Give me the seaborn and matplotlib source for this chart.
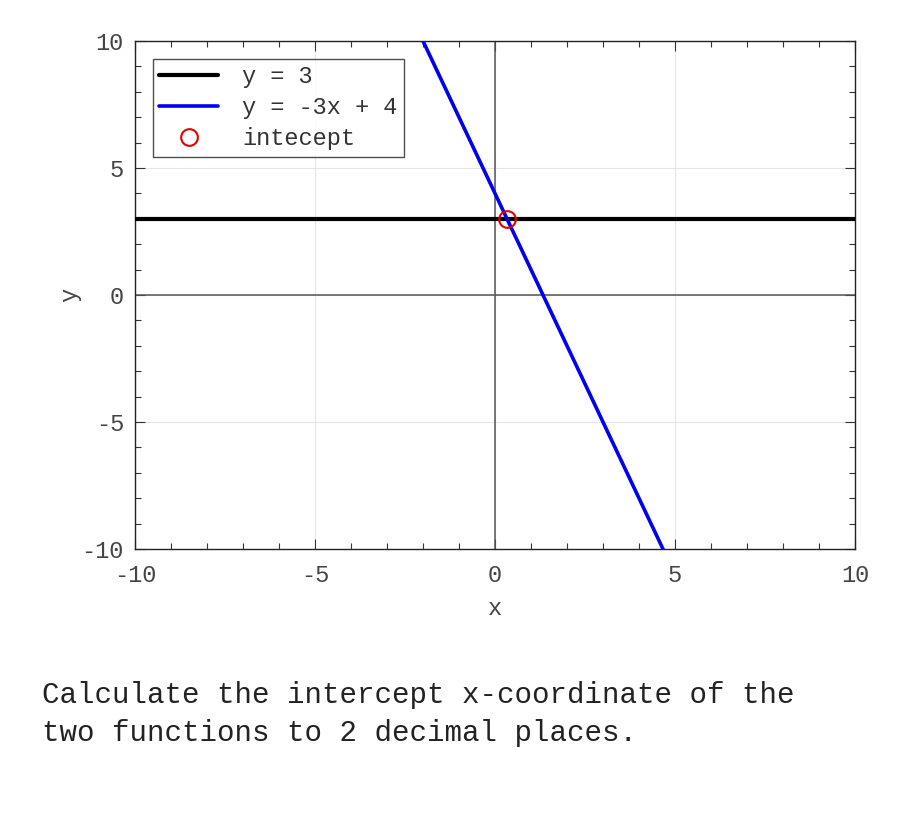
import matplotlib
matplotlib.use("Agg")
import matplotlib.pyplot as plt
import seaborn as sns
import pandas as pd
from matplotlib.ticker import MultipleLocator

# data
flat_x = [-10, 10]
flat_y = [3, 3]
steep_x = [-2, 4.667]
steep_y = [10, -10]
int_x = [0.333]
int_y = [3]
ticks = [-10, -5, 0, 5, 10]

sns.set_theme(style="ticks")
plt.rcParams["font.family"] = ["Liberation Mono", "DejaVu Sans Mono"]
plt.rcParams["axes.unicode_minus"] = False

fig = plt.figure(figsize=(9, 8.25), dpi=100)
ax = fig.add_axes([0.15, 0.3345, 0.8, 0.6158])

ax.grid(True, color="#e6e6e6", linewidth=0.8)
ax.axhline(0, color="#555555", linewidth=1.1, zorder=1)
ax.axvline(0, color="#555555", linewidth=1.1, zorder=1)

sns.lineplot(x=flat_x, y=flat_y, ax=ax, color="black", linewidth=3.0, label="y = 3", zorder=3)
sns.lineplot(x=steep_x, y=steep_y, ax=ax, color="#0000ee", linewidth=2.6, label="y = -3x + 4", zorder=3)
ax.plot(int_x, int_y, linestyle="none", marker="o", markersize=12, markerfacecolor="none",
        markeredgecolor="#e00000", markeredgewidth=1.5, label="intecept", zorder=4)

ax.set_xlim(-10, 10)
ax.set_ylim(-10, 10)
ax.set_xticks(ticks)
ax.set_yticks(ticks)
ax.xaxis.set_minor_locator(MultipleLocator(1))
ax.yaxis.set_minor_locator(MultipleLocator(1))
ax.tick_params(which="both", direction="in", top=True, right=True, colors="#333333",
               labelcolor="#444444", labelsize=17)
ax.tick_params(which="major", length=7, width=0.8)
ax.tick_params(axis="x", which="major", pad=11)
ax.tick_params(axis="y", which="major", pad=8)
ax.tick_params(which="minor", length=4, width=0.8)
for s in ax.spines.values():
    s.set_color("#222222")
    s.set_linewidth(1.0)

ax.set_xlabel("x", fontsize=17, color="#444444", labelpad=7)
ax.set_ylabel("y", fontsize=17, color="#444444", labelpad=0)

leg = ax.legend(loc="upper left", fontsize=17, frameon=True, fancybox=False,
                handlelength=2.5, borderaxespad=0.75, borderpad=0.28, labelspacing=0.33,
                handletextpad=1.0)
leg.get_frame().set_edgecolor("#222222")
leg.get_frame().set_linewidth(1.0)
for t in leg.get_texts():
    t.set_color("#333333")

fig.text(0.047, 0.174, "Calculate the intercept x-coordinate of the\ntwo functions to 2 decimal places.",
         fontsize=21, color="#222222", va="top", ha="left", linespacing=1.45)

fig.savefig("out.png", dpi=100)
